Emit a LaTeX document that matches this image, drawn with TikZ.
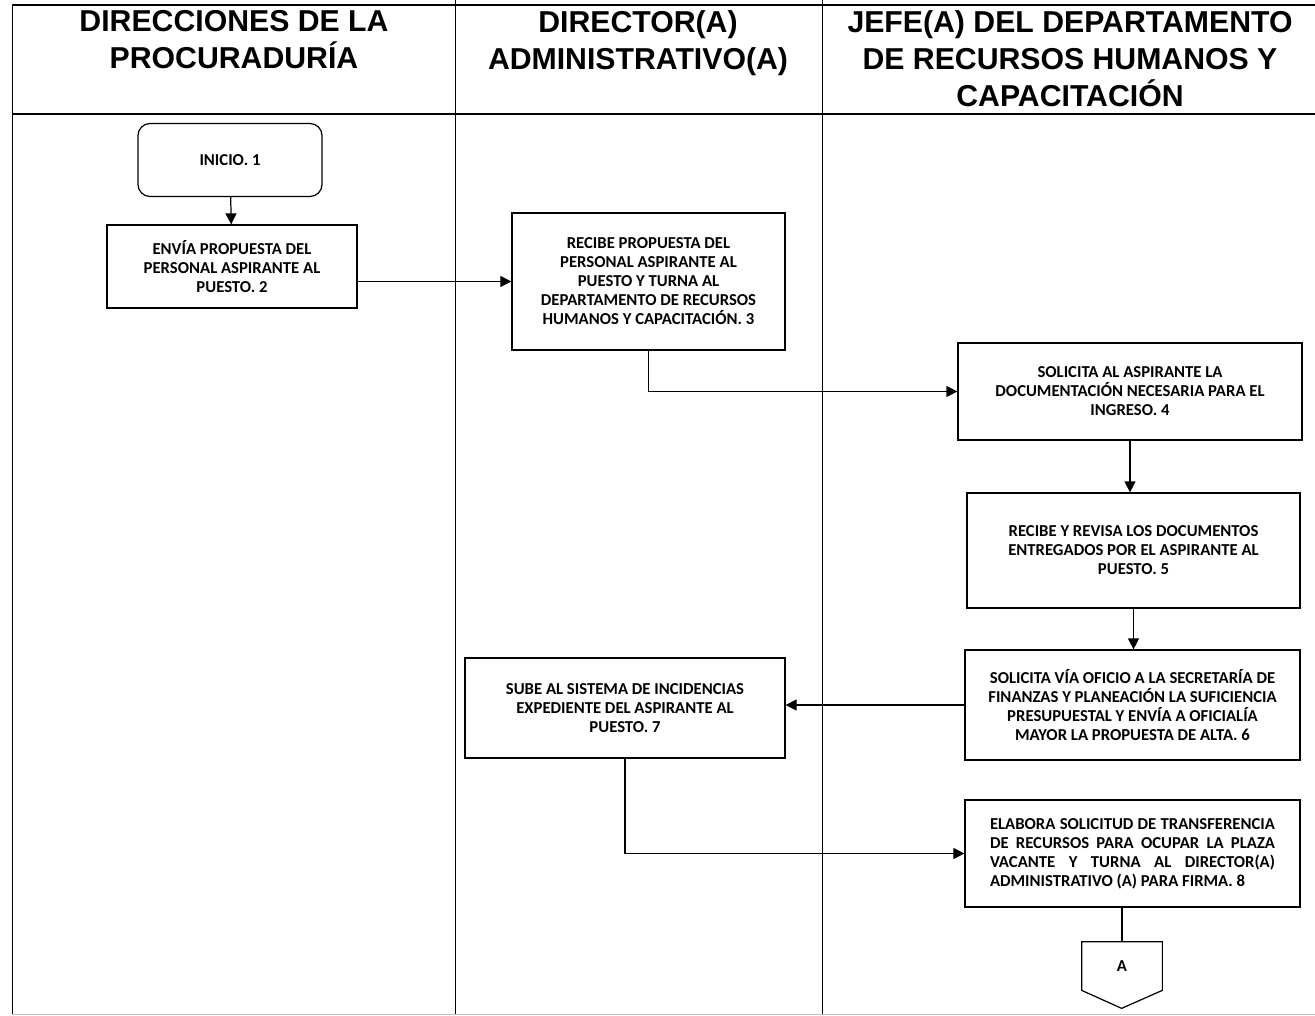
\documentclass[tikz,border=0pt]{standalone}
\usepackage{fontspec}
\setmainfont{Carlito}
\newfontfamily\headfont{Liberation Sans}
\usepackage{tikz}
\usetikzlibrary{arrows.meta}

\begin{document}
\begin{tikzpicture}[x=0.2mm, y=-0.2mm,
        box/.style={draw, line width=0.7pt, align=center, inner sep=1mm,
                    font=\fontsize{9.5}{10.8}\selectfont\bfseries},
        hdr/.style={anchor=north, align=center, inner sep=0pt,
                    font=\headfont\fontsize{17.2}{21}\selectfont\bfseries},
        lane/.style={line width=0.5pt},
        arr/.style={-{Triangle[length=2.2mm,width=2.2mm]}, line width=0.7pt}]
        \useasboundingbox (0,0) rectangle (1315,1016);
        % carriles
        \draw[line width=1.2pt] (12,5) -- (1315,5);
        \draw[line width=0.9pt] (12,114) -- (1315,114);
        \draw[lane] (12,5) -- (12,1014); \draw[lane] (455,0) -- (455,1014); \draw[lane] (822,0) -- (822,1014);
        \draw[lane, black!25] (12,1014) -- (1315,1014);
        \node[hdr] (h1) at (234,10) {DIRECCIONES DE LA\\PROCURADURÍA};
        \node[hdr] (h2) at (638,10) {DIRECTOR(A)\\ADMINISTRATIVO(A)};
        \node[hdr] (h3) at (1070,10) {JEFE(A) DEL DEPARTAMENTO\\DE RECURSOS HUMANOS Y\\CAPACITACIÓN};
        % actividades
        \node[box, rounded corners=2.4mm, minimum width=36.8mm, minimum height=14.6mm] (inicio) at (230,160) {INICIO. 1};
        \node[box, minimum width=50mm, minimum height=16.6mm] (envia) at (232,266.5)
              {ENVÍA PROPUESTA DEL\\PERSONAL ASPIRANTE AL\\PUESTO. 2};
        \node[box, minimum width=54.6mm, minimum height=27.4mm] (recibe) at (648.5,281.5)
              {RECIBE PROPUESTA DEL\\PERSONAL ASPIRANTE AL\\PUESTO Y TURNA AL\\DEPARTAMENTO DE RECURSOS\\HUMANOS Y CAPACITACIÓN. 3};
        \node[box, minimum width=68.8mm, minimum height=19.4mm] (solicita) at (1130,391.5)
              {SOLICITA AL ASPIRANTE LA\\DOCUMENTACIÓN NECESARIA PARA EL\\INGRESO. 4};
        \node[box, minimum width=66.6mm, minimum height=23mm] (revisa) at (1133.5,550.5)
              {RECIBE Y REVISA LOS DOCUMENTOS\\ENTREGADOS POR EL ASPIRANTE AL\\PUESTO. 5};
        \node[box, minimum width=67mm, minimum height=22mm] (oficio) at (1132.5,705)
              {SOLICITA VÍA OFICIO A LA SECRETARÍA DE\\FINANZAS Y PLANEACIÓN LA SUFICIENCIA\\PRESUPUESTAL Y ENVÍA A OFICIALÍA\\MAYOR LA PROPUESTA DE ALTA. 6};
        \node[box, minimum width=64mm, minimum height=20mm] (sube) at (625,708)
              {SUBE AL SISTEMA DE INCIDENCIAS\\EXPEDIENTE DEL ASPIRANTE AL\\PUESTO. 7};
        \node[box, minimum width=67mm, minimum height=21.4mm, text width=57mm, align=justify] (elabora) at (1132.5,853.5)
              {\hyphenpenalty=10000 ELABORA SOLICITUD DE TRANSFERENCIA\linebreak DE RECURSOS PARA OCUPAR LA PLAZA\linebreak
               VACANTE Y TURNA AL DIRECTOR(A)\linebreak ADMINISTRATIVO (A) PARA FIRMA. 8};
        % conector fuera de página
        \node[font=\fontsize{9.5}{10.8}\selectfont\bfseries, minimum width=16mm, minimum height=9.6mm] (conA) at (1122,966) {A};
        \draw[line width=0.7pt] (conA.north west) -- (conA.south west) -- ++(40,18) -- (conA.south east) -- (conA.north east) -- cycle;
        % flujo
        \draw[arr] (inicio) -- (envia);
        \draw[arr] (envia.east |- recibe.west) -- (recibe.west);
        \draw[arr] (recibe.south) |- (solicita.west);
        \draw[arr] (solicita.south) -- (solicita.south |- revisa.north);
        \draw[arr] (revisa.south) -- (revisa.south |- oficio.north);
        \draw[arr] (oficio.west) -- (sube.east |- oficio.west);
        \draw[arr] (sube.south) |- (elabora.west);
        \draw[line width=0.7pt] (elabora.south -| conA) -- (conA.north);
      \end{tikzpicture}
\end{document}
